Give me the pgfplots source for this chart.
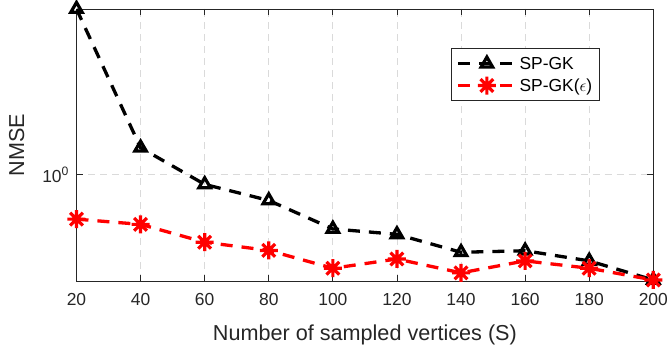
\documentclass[border=0pt]{standalone}
\usepackage{pgfplots}
\pgfplotsset{compat=1.18}
\usepackage{fontspec}
\setmainfont{Liberation Sans}
\definecolor{axgray}{HTML}{262626}
\definecolor{gridgray}{HTML}{DADADA}
\pgfdeclareplotmark{ast8}{%
  \pgfpathmoveto{\pgfqpoint{-\pgfplotmarksize}{0pt}}\pgfpathlineto{\pgfqpoint{\pgfplotmarksize}{0pt}}%
  \pgfpathmoveto{\pgfqpoint{0pt}{-\pgfplotmarksize}}\pgfpathlineto{\pgfqpoint{0pt}{\pgfplotmarksize}}%
  \pgfpathmoveto{\pgfqpoint{-0.7071\pgfplotmarksize}{-0.7071\pgfplotmarksize}}\pgfpathlineto{\pgfqpoint{0.7071\pgfplotmarksize}{0.7071\pgfplotmarksize}}%
  \pgfpathmoveto{\pgfqpoint{-0.7071\pgfplotmarksize}{0.7071\pgfplotmarksize}}\pgfpathlineto{\pgfqpoint{0.7071\pgfplotmarksize}{-0.7071\pgfplotmarksize}}%
  \pgfusepathqstroke}
\begin{document}
\begin{tikzpicture}
\begin{axis}[
  scale only axis,
  width=576.8bp, height=272bp,
  xmin=20, xmax=200,
  ymode=log, ymin=0.6, ymax=2.22,
  xtick={20,40,...,200},
  ytick={1}, yticklabels={10\textsuperscript{0}},
  minor ytick={},
  /pgf/number format/assume math mode=true,
  tick align=inside,
  major tick length=6bp,
  axis line style={axgray, line width=0.8bp},
  every tick/.style={axgray, line width=0.8bp},
  grid=major,
  major grid style={gridgray, line width=0.8bp, dash pattern=on 7bp off 5bp},
  tick label style={font=\fontsize{17.5}{20}\selectfont, text=axgray},
  xticklabel style={yshift=-9bp},
  yticklabel style={xshift=-4bp},
  xlabel={Number of sampled vertices (S)},
  ylabel={NMSE},
  label style={font=\fontsize{21.7}{25}\selectfont, text=axgray},
  xlabel style={at={(rel axis cs:0.5,0)}, anchor=base, yshift=-59bp},
  ylabel style={at={(axis description cs:-0.10367,0.5)}, anchor=center},
  legend style={at={(rel axis cs:0.649,0.855)}, anchor=north west,
    draw=axgray, line width=0.8bp, font=\fontsize{17.5}{20}\selectfont,
    inner xsep=5bp, inner ysep=6bp, row sep=4bp},
  legend cell align=left,
  legend image code/.code={
    \draw[mark repeat=2,mark phase=2,#1] plot coordinates {(0bp,0bp) (29bp,0bp) (58bp,0bp)};
  },
]
\addplot[black, line width=3.3bp, dash pattern=on 12bp off 9bp,
  mark=triangle, mark size=6.6bp, mark options={solid, line width=3.2bp}]
  coordinates {(20,2.22) (40,1.139) (60,0.955) (80,0.884) (100,0.771) (120,0.751) (140,0.689) (160,0.694) (180,0.661) (200,0.603)};
\addlegendentry{SP-GK}
\addplot[red, line width=3.3bp, dash pattern=on 12bp off 9bp,
  mark=ast8, mark size=9bp, mark options={solid, line width=3.2bp}]
  coordinates {(20,0.808) (40,0.788) (60,0.723) (80,0.695) (100,0.638) (120,0.667) (140,0.624) (160,0.661) (180,0.638) (200,0.603)};
\addlegendentry{SP-GK($\epsilon$)}
\end{axis}
\pgfresetboundingbox
\path[use as bounding box] (-76.5bp,-68bp) rectangle (591.5bp,281bp);
\end{tikzpicture}
\end{document}
